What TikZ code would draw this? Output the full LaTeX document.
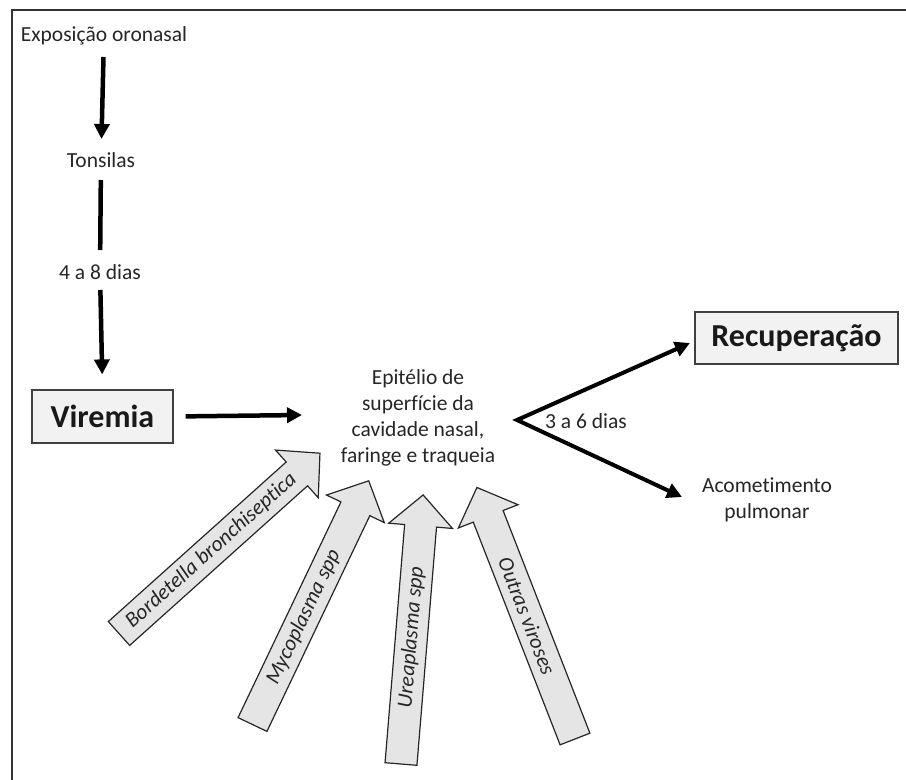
\documentclass[tikz,border=0pt]{standalone}
\usepackage{fontspec}
\setmainfont{Carlito}[Ligatures=NoCommon]
\usetikzlibrary{arrows.meta}
\begin{document}
\begin{tikzpicture}[x=1pt,y=1pt,
  lbl/.style={font=\fontsize{21.5}{26}\selectfont, inner sep=0pt, align=center, text=black!85},
  bigbox/.style={draw=black!75, fill=black!5, line width=1.2pt, font=\fontsize{32}{36}\selectfont\bfseries, inner sep=0pt, text=black!90},
  thickarrow/.style={line width=4.5pt, -{Triangle[length=15pt,width=15pt]}},
  thinarrow/.style={line width=4pt, {Triangle[length=15pt,width=15pt]}-{Triangle[length=15pt,width=15pt]}, line join=miter},
  blockarrow/.style={draw=black!85, fill=black!10, line width=1.2pt, line join=miter},
  arrlbl/.style={font=\fontsize{21.5}{24}\selectfont\itshape, inner sep=0pt, text=black!85}]
\useasboundingbox (0,0) rectangle (906,-780);
% frame
\draw[line width=2pt, black!80] (12,-780) -- (12,-10) -- (906,-10);

% text nodes
\node[lbl] (expo) at (104,-36) {Exposição oronasal};
\node[lbl] (tons) at (101,-160) {Tonsilas};
\node[lbl] (d48) at (100,-272) {4 a 8 dias};
\node[bigbox, minimum width=141, minimum height=53] (vir) at (102.5,-416.5) {Viremia};
\node[lbl] (epit) at (418,-418) {Epitélio de\\superfície da\\cavidade nasal,\\faringe e traqueia};
\node[bigbox, minimum width=203, minimum height=52] (rec) at (796.5,-338) {Recuperação};
\node[lbl] (acom) at (767,-500) {Acometimento\\pulmonar};
\node[lbl] (d36) at (586,-421) {3 a 6 dias};

% connectors
\draw[thickarrow, shorten <=21pt, shorten >=21pt] (expo.center) -- (tons.center);
\draw[line width=4.5pt, shorten <=20pt, shorten >=22pt] (tons.center) -- (d48.center);
\draw[thickarrow, shorten <=18pt, shorten >=15pt] (d48.center) -- (vir.north);
\coordinate (vtip) at (302,-415);
\draw[thickarrow, shorten <=12pt] (vir.east) -- (vtip);
\coordinate (split) at (517,-420);
\coordinate (uptip) at (690,-343);
\coordinate (downtip) at (682,-497);
\draw[thinarrow] (uptip) -- (split) -- (downtip);

% block arrows
\begin{scope}[shift={(119,-633.5)}, rotate=41.9]
  \draw[blockarrow] (0,-16) -- (239,-16) -- (239,-32) -- (270,0) -- (239,32) -- (239,16) -- (0,16) -- cycle;
  \node[arrlbl, rotate=41.9] (bb) at (124,0) {Bordetella bronchiseptica};
\end{scope}
\begin{scope}[shift={(252.5,-724.5)}, rotate=64.5]
  \draw[blockarrow] (0,-16) -- (239,-16) -- (239,-32) -- (270,0) -- (239,32) -- (239,16) -- (0,16) -- cycle;
  \node[arrlbl, rotate=64.5] (myc) at (119,0) {Mycoplasma spp};
\end{scope}
\begin{scope}[shift={(401,-764)}, rotate=85.3]
  \draw[blockarrow] (0,-16) -- (239,-16) -- (239,-32) -- (270,0) -- (239,32) -- (239,16) -- (0,16) -- cycle;
  \node[arrlbl, rotate=85.3] (urea) at (127,0) {Ureaplasma spp};
\end{scope}
\begin{scope}[shift={(575,-739)}, rotate=111.3]
  \draw[blockarrow] (0,-16) -- (239,-16) -- (239,-32) -- (270,0) -- (239,32) -- (239,16) -- (0,16) -- cycle;
  \node[arrlbl, rotate=-68.7] (outras) at (132,0) {Outras viroses};
\end{scope}
\end{tikzpicture}
\end{document}
